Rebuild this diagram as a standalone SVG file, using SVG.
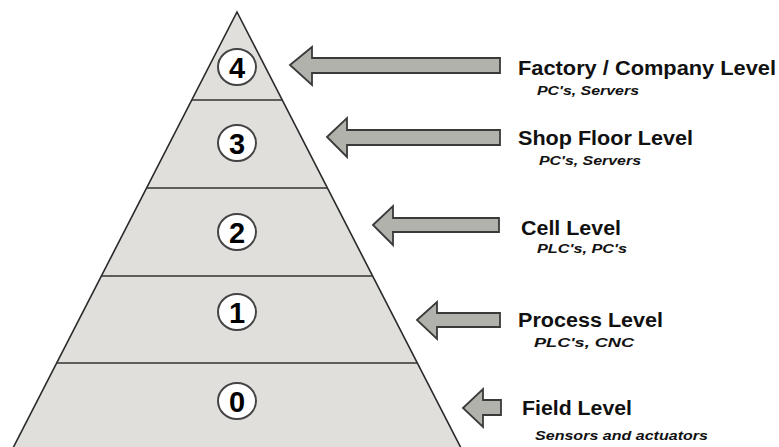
<svg xmlns="http://www.w3.org/2000/svg" width="779" height="447" viewBox="0 0 779 447">
<style>
.pyr{fill:#e0dfdb;stroke:#2a2a2a;stroke-width:1.6}
.div{stroke:#333;stroke-width:1.6;fill:none}
.badge{fill:#fff;stroke:#444;stroke-width:2}
.num{font-family:"Liberation Sans",Arial,sans-serif;font-weight:bold;font-size:29px;fill:#000;text-anchor:middle}
.arrow{fill:#b2b2ad;stroke:#3a3a3a;stroke-width:1.8;stroke-linejoin:miter}
.title{font-family:"Liberation Sans",Arial,sans-serif;font-weight:bold;font-size:19.5px;fill:#111}
.sub{font-family:"Liberation Sans",Arial,sans-serif;font-weight:bold;font-style:italic;font-size:13px;fill:#111}
</style>
<rect width="779" height="447" fill="#fff"/>
<g id="pyramid">
<polygon class="pyr" points="237,12 461,448 13,448"/>
<line class="div" x1="192" y1="100" x2="282" y2="100"/>
<line class="div" x1="147" y1="188" x2="327" y2="188"/>
<line class="div" x1="101" y1="276" x2="373" y2="276"/>
<line class="div" x1="56" y1="363" x2="418" y2="363"/>
</g>
<g id="level4">
<ellipse class="badge" cx="237" cy="67" rx="19" ry="18"/>
<text class="num" x="237" y="78">4</text>
</g>
<g id="level3">
<ellipse class="badge" cx="237" cy="143" rx="19" ry="18"/>
<text class="num" x="237" y="154">3</text>
</g>
<g id="level2">
<ellipse class="badge" cx="237" cy="232" rx="19" ry="18"/>
<text class="num" x="237" y="243">2</text>
</g>
<g id="level1">
<ellipse class="badge" cx="237" cy="312" rx="19" ry="18"/>
<text class="num" x="237" y="323">1</text>
</g>
<g id="level0">
<ellipse class="badge" cx="237" cy="401" rx="19" ry="18"/>
<text class="num" x="237" y="412">0</text>
</g>
<g id="connectors">
<polygon class="arrow" points="290,65 312,47 312,58 500,58 500,73 312,73 312,85"/>
<polygon class="arrow" points="327,137 347,118 347,130 500,130 500,145 347,145 347,157"/>
<polygon class="arrow" points="373,225 393,206 393,218 499,218 499,232 393,232 393,245"/>
<polygon class="arrow" points="417,320 437,302 437,313 500,313 500,327 437,327 437,339"/>
<polygon class="arrow" points="463,408 483,389 483,400 501,400 501,415 483,415 483,427"/>
</g>
<g id="label4">
<text class="title" x="518" y="75" textLength="258" lengthAdjust="spacingAndGlyphs">Factory / Company Level</text>
<text class="sub" x="537" y="95" textLength="102" lengthAdjust="spacingAndGlyphs">PC's, Servers</text>
</g>
<g id="label3">
<text class="title" x="518" y="145" textLength="175" lengthAdjust="spacingAndGlyphs">Shop Floor Level</text>
<text class="sub" x="539" y="165" textLength="102" lengthAdjust="spacingAndGlyphs">PC's, Servers</text>
</g>
<g id="label2">
<text class="title" x="521" y="235" textLength="100" lengthAdjust="spacingAndGlyphs">Cell Level</text>
<text class="sub" x="537" y="253" textLength="90" lengthAdjust="spacingAndGlyphs">PLC's, PC's</text>
</g>
<g id="label1">
<text class="title" x="518" y="327" textLength="145" lengthAdjust="spacingAndGlyphs">Process Level</text>
<text class="sub" x="534" y="347" textLength="100" lengthAdjust="spacingAndGlyphs">PLC's, CNC</text>
</g>
<g id="label0">
<text class="title" x="522" y="415" textLength="110" lengthAdjust="spacingAndGlyphs">Field Level</text>
<text class="sub" x="535" y="440" textLength="173" lengthAdjust="spacingAndGlyphs">Sensors and actuators</text>
</g>
</svg>
